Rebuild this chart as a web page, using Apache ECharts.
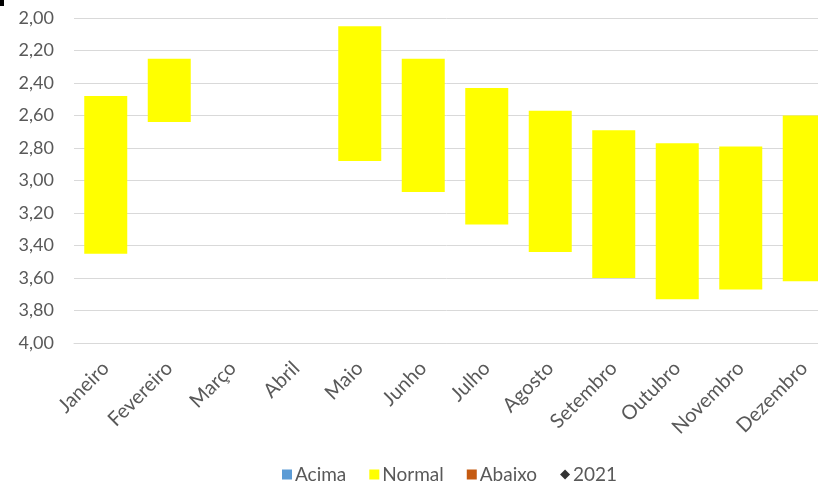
<!DOCTYPE html>
<html>
<head>
<meta charset="utf-8">
<script src="https://cdn.jsdelivr.net/npm/echarts@6/dist/echarts.min.js"></script>
<style>
html,body{margin:0;padding:0;background:#fff;overflow:hidden;}
#chart{width:818px;height:485px;}
</style>
</head>
<body>
<div id="chart"></div>
<script>
const categories = ['Janeiro','Fevereiro','Março','Abril','Maio','Junho','Julho','Agosto','Setembro','Outubro','Novembro','Dezembro'];
const normalTop    = [2.48, 2.25, null, null, 2.05, 2.25, 2.43, 2.57, 2.69, 2.77, 2.79, 2.60];
const normalBottom = [3.45, 2.64, null, null, 2.88, 3.07, 3.27, 3.44, 3.60, 3.73, 3.67, 3.62];
const acima = [];
const abaixo = [];
const points2021 = [];
const yTicks = {min: 2.0, max: 4.0, step: 0.2};

const base = normalTop.map(v => v == null ? '-' : v);
const span = normalTop.map((t, i) => (t == null || normalBottom[i] == null) ? '-' : +(normalBottom[i] - t).toFixed(2));

const font = 'Lato, "Open Sans", sans-serif';
const chart = echarts.init(document.getElementById('chart'));
chart.setOption({
  animation: false,
  backgroundColor: '#ffffff',
  grid: {left: 74, width: 762, top: 18, height: 325, containLabel: false, outerBoundsMode: 'none'},
  graphic: [{type: 'rect', left: 0, top: 0, shape: {width: 4, height: 6}, style: {fill: '#000'}}],
  legend: {
    top: 460, left: 277,
    itemWidth: 10, itemHeight: 10, itemGap: 23,
    textStyle: {color: '#595959', fontSize: 19, fontFamily: font, padding: [0, 0, 0, -2]},
    data: [
      {name: 'Acima', icon: 'rect'},
      {name: 'Normal', icon: 'rect'},
      {name: 'Abaixo', icon: 'rect'},
      {name: '2021', icon: 'diamond'}
    ]
  },
  xAxis: {
    type: 'category',
    data: categories,
    axisLine: {show: true, lineStyle: {color: '#d9d9d9'}},
    axisTick: {show: false},
    axisLabel: {rotate: 45, color: '#595959', fontSize: 20, fontFamily: font, margin: 22, interval: 0}
  },
  yAxis: {
    type: 'value',
    inverse: true,
    min: yTicks.min, max: yTicks.max, interval: yTicks.step,
    axisLine: {show: false},
    axisTick: {show: false},
    axisLabel: {color: '#595959', fontSize: 18, fontFamily: font, margin: 20,
      formatter: v => v.toFixed(2).replace('.', ',')},
    splitLine: {lineStyle: {color: '#d9d9d9', width: 1}}
  },
  series: [
    {name: 'base', type: 'bar', stack: 'n', data: base, barWidth: 43,
      itemStyle: {color: 'rgba(0,0,0,0)'}, silent: true, legendHoverLink: false},
    {name: 'Acima', type: 'bar', stack: 'n', data: acima, barWidth: 43, itemStyle: {color: '#5b9bd5'}},
    {name: 'Normal', type: 'bar', stack: 'n', data: span, barWidth: 43, itemStyle: {color: '#ffff00'}},
    {name: 'Abaixo', type: 'bar', stack: 'n', data: abaixo, barWidth: 43, itemStyle: {color: '#c55a11'}},
    {name: '2021', type: 'scatter', data: points2021, symbol: 'diamond', symbolSize: 8, itemStyle: {color: '#000'}}
  ]
});
</script>
</body>
</html>
